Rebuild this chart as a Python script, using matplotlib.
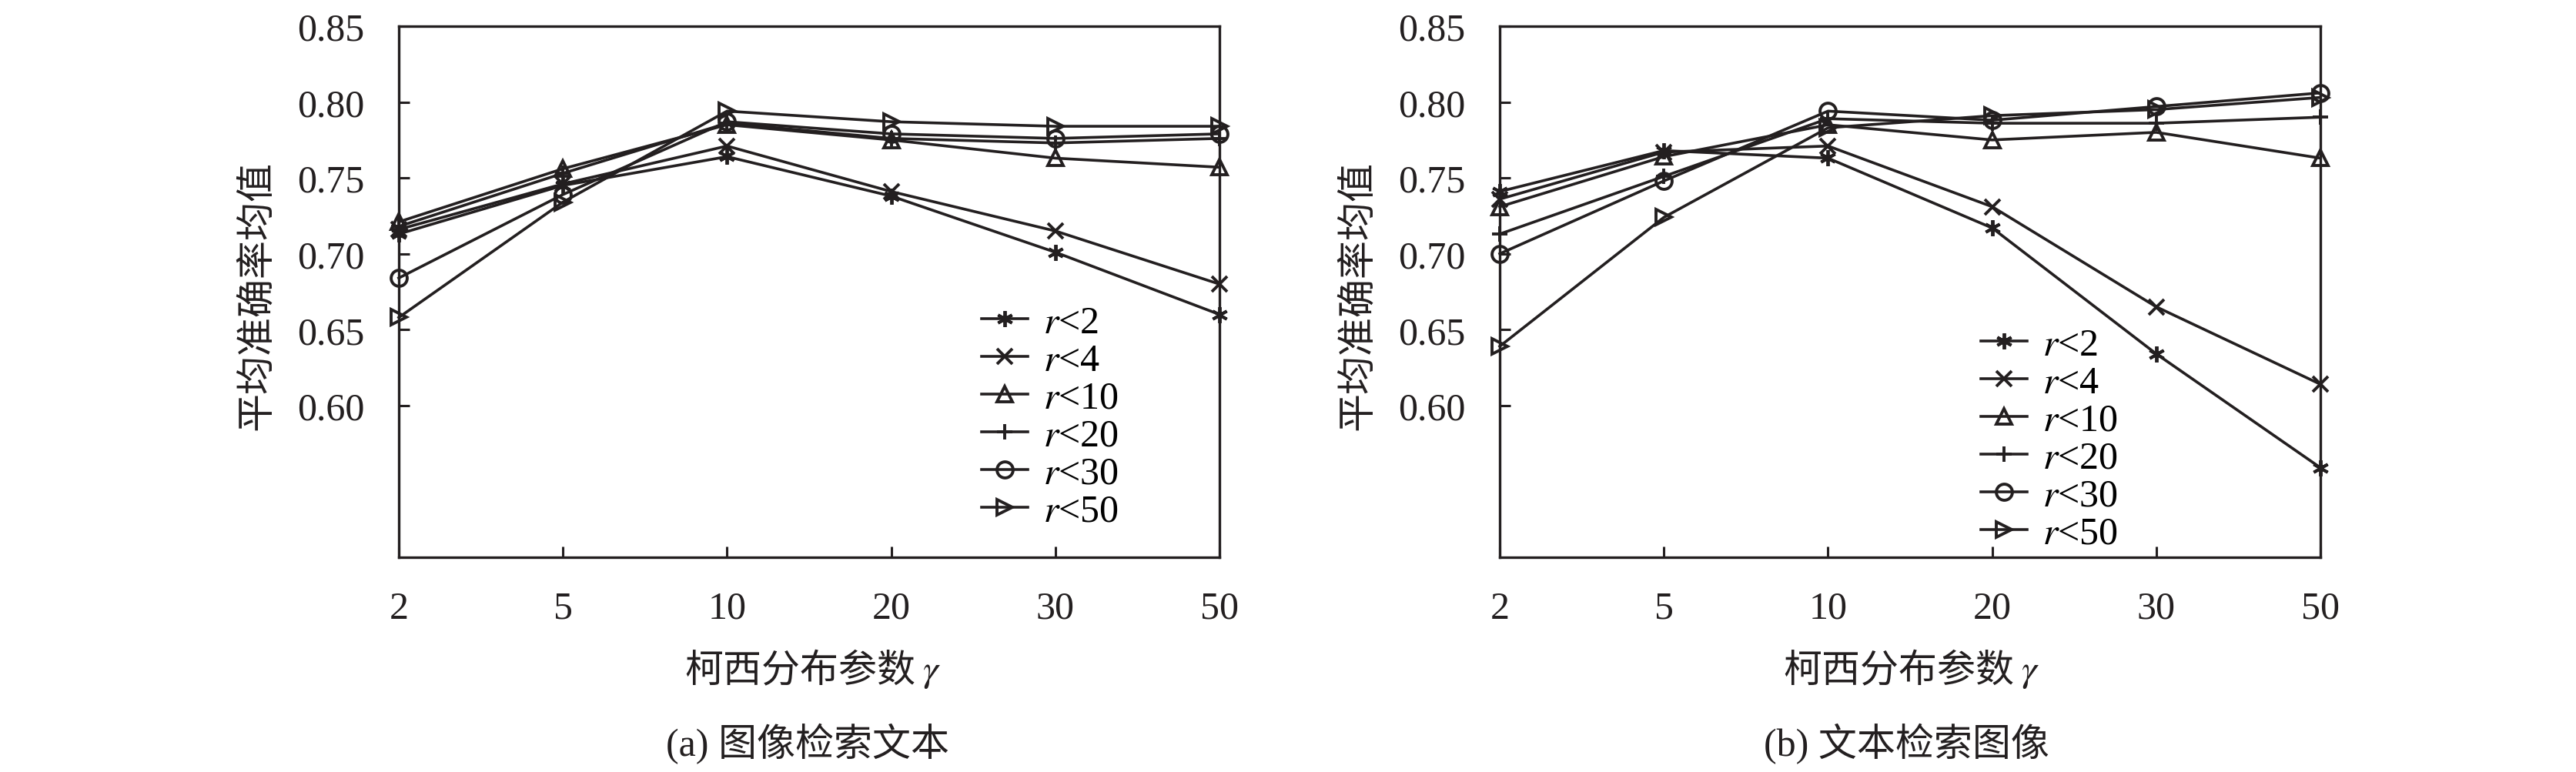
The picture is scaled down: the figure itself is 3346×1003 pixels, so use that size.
import numpy as np
import matplotlib
matplotlib.use('Agg')
import matplotlib.pyplot as plt

plt.rcParams['font.family'] = ['Liberation Serif', 'Noto Sans CJK SC']
plt.rcParams['mathtext.fontset'] = 'stix'

# DATA
gamma_labels = ['2', '5', '10', '20', '30', '50']
series_names = ['$r$<2', '$r$<4', '$r$<10', '$r$<20', '$r$<30', '$r$<50']

# (a) image -> text
a_r2 = [0.713, 0.745, 0.764, 0.738, 0.701, 0.660]
a_r4 = [0.716, 0.746, 0.771, 0.741, 0.715, 0.680]
a_r10 = [0.721, 0.756, 0.785, 0.775, 0.763, 0.757]
a_r20 = [0.718, 0.753, 0.786, 0.776, 0.773, 0.776]
a_r30 = [0.684, 0.739, 0.787, 0.779, 0.776, 0.779]
a_r50 = [0.658, 0.734, 0.794, 0.787, 0.784, 0.784]

# (b) text -> image
b_r2 = [0.741, 0.768, 0.763, 0.717, 0.634, 0.559]
b_r4 = [0.736, 0.767, 0.771, 0.731, 0.665, 0.614]
b_r10 = [0.731, 0.764, 0.785, 0.775, 0.780, 0.763]
b_r20 = [0.713, 0.751, 0.789, 0.786, 0.786, 0.790]
b_r30 = [0.700, 0.748, 0.794, 0.788, 0.797, 0.806]
b_r50 = [0.639, 0.724, 0.783, 0.791, 0.795, 0.803]

yticks = [0.60, 0.65, 0.70, 0.75, 0.80, 0.85]

MARKERS = [(6, 2, 0), 'x', '^', '+', 'o', '>']
FS = 36
COL = '#231f20'


def draw_panel(ax, series, leg_anchor):
    xs = np.arange(len(gamma_labels))
    for vals, name, mk in zip(series, series_names, MARKERS):
        ax.plot(xs, vals, color=COL, lw=2.6, marker=mk, markersize=15,
                markerfacecolor='none', markeredgecolor=COL,
                markeredgewidth=2.8, label=name, clip_on=False)
    ax.set_xlim(0, len(gamma_labels) - 1)
    ax.set_ylim(0.50, 0.85)
    ax.set_xticks(xs)
    ax.set_xticklabels(gamma_labels)
    ax.set_yticks(yticks)
    ax.set_yticklabels([f'{v:.2f}' for v in yticks])
    ax.tick_params(direction='in', length=10, width=2.2, labelsize=FS,
                   colors=COL, top=False, right=False)
    ax.tick_params(axis='x', pad=31)
    ax.tick_params(axis='y', pad=32)
    for sp in ax.spines.values():
        sp.set_linewidth(2.4)
        sp.set_color(COL)
    ax.legend(loc='upper left', bbox_to_anchor=leg_anchor, frameon=False,
              fontsize=FS, borderpad=0, borderaxespad=0, labelspacing=0.05,
              handlelength=1.2, handletextpad=0.4)


fig = plt.figure(figsize=(33.46, 10.04), dpi=100)
ax1 = fig.add_axes([0.1548, 0.2779, 0.3186, 0.6873])
ax2 = fig.add_axes([0.5822, 0.2779, 0.3186, 0.6873])

draw_panel(ax1, [a_r2, a_r4, a_r10, a_r20, a_r30, a_r50], (0.710, 0.475))
draw_panel(ax2, [b_r2, b_r4, b_r10, b_r20, b_r30, b_r50], (0.586, 0.433))

for dx, cap in [(0, '(a) 图像检索文本'), (1427, '(b) 文本检索图像')]:
    fig.text((1189 + dx) / 3346, 1 - 874 / 1004, '柯西分布参数', ha='right',
             va='center', fontsize=FS, color=COL)
    fig.text((1198 + dx) / 3346, 1 - 874 / 1004, '$\\gamma$', ha='left',
             va='center', fontsize=FS, color=COL)
    fig.text((1049 + dx) / 3346, 1 - 967 / 1004, cap, ha='center',
             va='center', fontsize=FS, color=COL)

for lx in [335, 1765]:
    fig.text(lx / 3346, 1 - 384 / 1004, '平均准确率均值', rotation=90,
             ha='center', va='center', fontsize=FS, color=COL)

fig.savefig('out.png', dpi=100)
